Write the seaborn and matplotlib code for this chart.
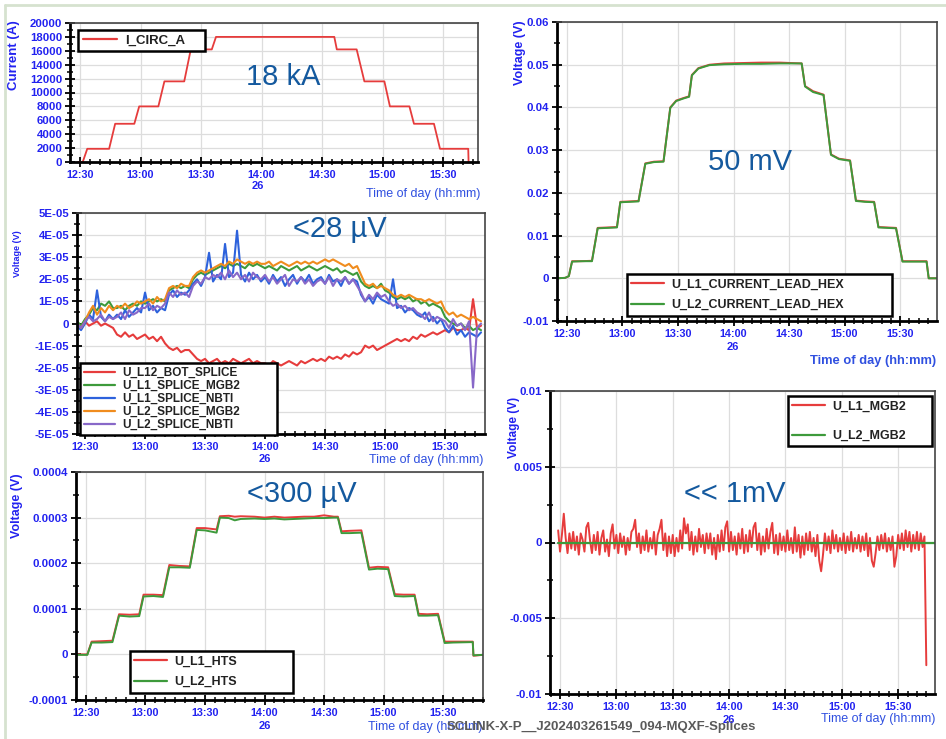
import numpy as np
import pandas as pd
import matplotlib
matplotlib.use("Agg")
import matplotlib.pyplot as plt
import seaborn as sns
from matplotlib.lines import Line2D
from matplotlib.ticker import MultipleLocator, FuncFormatter

# ---------------- data ----------------
# circuit current, corners of the staircase (A)
circ_time = ["12:29:00", "12:31:20", "12:33:35", "12:44:25", "12:47:25", "12:56:55", "12:59:20",
             "13:08:50", "13:11:50", "13:21:40", "13:24:55", "13:35:20", "13:37:25", "14:36:05",
             "14:37:20", "14:47:10", "14:51:00", "15:00:55", "15:03:40", "15:13:20", "15:15:35",
             "15:25:30", "15:28:30", "15:42:30", "15:42:40"]
circ_amp = [0, 0, 1900, 1900, 5500, 5500, 8000, 8000, 11600, 11600, 16200, 16200, 18000, 18000,
            16200, 16200, 11600, 11600, 8000, 8000, 5500, 5500, 1900, 1900, 0]

# splice voltages, logged every 2 min from 12:26 (microvolt)
splice_start = "12:26:00"
splice_names = ["U_L12_BOT_SPLICE", "U_L1_SPLICE_MGB2", "U_L1_SPLICE_NBTI",
                "U_L2_SPLICE_MGB2", "U_L2_SPLICE_NBTI"]
u_l12_bot_splice = [0, -1, 1, -1, 0, 1, -1, 0, -1,
                    -2,
                    -5, -6, -4, -6, -5, -7, -6, -5, -7, -6, -8, -6,
                    -9, -11, -12, -11, -13, -12, -12,
                    -14, -16, -17, -16, -18, -17, -16, -18, -17, -18, -16, -17, -18, -17, -16, -18, -17, -18,
                    -18, -19, -17, -18, -19, -18, -17, -18, -19, -17, -18, -17, -16, -17,
                    -16, -17, -15, -16, -15, -16, -14, -15, -13, -14,
                    -13, -10, -11, -10, -12, -11, -10,
                    -9, -8, -7, -8, -7, -8, -6, -7,
                    -5, -6, -5, -4, -5, -4,
                    -3, -4, -2, -3, -3, -2, -3, 11, -2, -1]
u_l1_splice_mgb2 = [1, -1, 2, 4, 7,
                    6, 9, 8, 10, 7,
                    7, 8, 6, 8, 9, 8, 10,
                    9, 10, 11, 10, 11, 10,
                    15, 16, 17, 16, 17, 16,
                    20, 22, 23, 22, 23, 24,
                    25, 26, 25, 27, 26, 27, 26, 25, 27, 26, 27, 26,
                    25, 26, 25, 24, 26, 25, 24, 25, 26, 24, 25, 26, 25, 24,
                    25, 26, 25, 24, 25, 23, 24, 23, 22, 23,
                    19, 17, 16, 17, 16, 18, 15,
                    14, 12, 11, 12, 11, 12, 10, 11,
                    9, 10, 8, 9, 8, 7,
                    3, 1, 0, -1, 0, -2, -1, -3, -2, -3]
u_l1_splice_nbti = [-1, -3, 0, 4, 2,
                    15, 3, 1, 4, 2,
                    4, 2, 6, 3, 5, 7, 5,
                    14, 6, 8, 5, 7, 6,
                    13, 15, 12, 14, 13, 15,
                    18, 20, 17, 21, 32, 19,
                    22, 20, 36, 21, 23, 42, 22, 19, 23, 20, 22, 19,
                    21, 18, 22, 19, 21, 17, 20, 22, 18, 21, 19, 22, 18, 20,
                    21, 18, 22, 19, 20, 17, 21, 18, 20, 19,
                    13, 10, 12, 9, 13, 11, 10,
                    9, 20, 7, 8, 5, 7, 6, 4,
                    3, 5, 1, 3, 0, 2,
                    -2, -4, -1, -5, -3, -6, -4, -5, -6, -4]
u_l2_splice_mgb2 = [0, -2, 1, 5, 8,
                    4, 7, 5, 8, 6,
                    8, 7, 9, 7, 8, 10, 9,
                    10, 11, 9, 12, 10, 11,
                    16, 17, 16, 18, 17, 17,
                    21, 23, 24, 23, 24, 25,
                    26, 27, 26, 28, 27, 29, 28, 27, 28, 27, 28, 27,
                    27, 28, 26, 27, 28, 27, 26, 27, 28, 27, 28, 27, 28, 27,
                    28, 29, 28, 29, 28, 27, 26, 27, 25, 26,
                    22, 18, 17, 18, 16, 17, 16,
                    15, 13, 12, 13, 12, 13, 12, 11,
                    11, 10, 11, 10, 9, 10,
                    6, 4, 5, 3, 4, 3, 2, 3, 2, 1]
u_l2_splice_nbti = [0, -2, 1, 3, 1,
                    2, 4, 1, 3, 2,
                    3, 5, 2, 6, 4, 5, 7,
                    7, 9, 6, 8, 7, 9,
                    14, 12, 15, 13, 14, 12,
                    17, 19, 18, 21, 20, 22,
                    21, 23, 20, 24, 21, 23, 20, 22, 19, 23, 21, 20,
                    22, 19, 21, 18, 20, 22, 17, 20, 19, 21, 18, 20, 17, 19,
                    20, 18, 21, 17, 20, 19, 21, 18, 20, 17,
                    14, 10, 13, 11, 14, 12, 13,
                    10, 8, 9, 7, 8, 6, 7, 5,
                    4, 2, 5, 1, 3, 2,
                    1, -2, 2, -1, 0, -3, 1, -29, -2, 0]

# HTS voltages (microvolt)
hts_time = ["12:25:00", "12:30:40", "12:32:50", "12:38:00", "12:43:20", "12:46:40", "12:52:00",
            "12:56:50", "12:59:00", "13:04:00", "13:08:50", "13:12:00", "13:17:00", "13:22:20",
            "13:25:50", "13:30:00", "13:35:50", "13:37:30", "13:42:00", "13:45:00", "13:48:00",
            "13:55:00", "14:00:00", "14:05:00", "14:10:00", "14:15:00", "14:20:00", "14:25:00",
            "14:30:00", "14:35:00", "14:37:00", "14:38:50", "14:43:00", "14:48:50", "14:52:40",
            "14:57:00", "15:02:20", "15:05:40", "15:10:00", "15:15:40", "15:17:40", "15:22:00",
            "15:27:30", "15:30:50", "15:35:00", "15:45:00", "15:45:20", "15:50:00"]
u_l1_hts = [0, 0, 28, 29, 30, 88, 87, 88, 131, 131, 130, 196, 194, 193, 277, 277, 274,
            303, 304, 302, 303, 302, 300, 302, 300, 301, 302, 302, 305, 302, 302,
            270, 271, 272, 190, 192, 191, 132, 131, 131, 89, 88, 89, 28, 28, 28, -3, -1]
u_l2_hts = [-1, -1, 26, 26, 27, 85, 83, 84, 127, 128, 126, 191, 191, 190, 273, 272, 267,
            300, 299, 294, 297, 298, 297, 298, 296, 297, 298, 299, 299, 300, 300,
            266, 266, 267, 186, 188, 187, 128, 127, 128, 85, 85, 86, 25, 26, 27, -2, -1]

# current lead heat exchanger voltages (millivolt)
hex_time = ["12:24:30", "12:29:00", "12:31:00", "12:32:45", "12:38:00", "12:43:30", "12:46:35",
            "12:52:00", "12:57:00", "12:58:50", "13:04:00", "13:08:40", "13:12:20", "13:17:00",
            "13:22:10", "13:25:50", "13:29:00", "13:33:00", "13:36:00", "13:37:30", "13:41:00",
            "13:47:00", "13:55:00", "14:05:00", "14:15:00", "14:25:00", "14:36:50", "14:38:40",
            "14:43:00", "14:48:40", "14:52:40", "14:57:00", "15:03:00", "15:06:10", "15:11:00",
            "15:16:00", "15:18:20", "15:23:00", "15:27:50", "15:31:20", "15:38:00", "15:44:20",
            "15:45:30", "15:50:00"]
u_l1_hex = [0.0, 0.1, 0.5, 4.0, 4.0, 4.1, 11.8, 11.9, 12.0, 17.9, 18.0, 18.1, 26.9, 27.3, 27.4,
            40.0, 41.6, 42.2, 42.6, 47.6, 49.2, 50.0, 50.3, 50.4, 50.5, 50.5, 50.3, 45.0, 43.8,
            43.0, 29.0, 28.0, 27.6, 18.2, 18.0, 17.9, 12.0, 11.9, 11.8, 4.0, 4.0, 4.0, 0.0, 0.0]
u_l2_hex = [0.0, 0.1, 0.5, 3.9, 4.0, 4.0, 11.7, 11.8, 11.9, 17.8, 17.9, 18.0, 26.8, 27.2, 27.3,
            39.9, 41.5, 42.1, 42.5, 47.5, 49.1, 49.9, 50.1, 50.2, 50.2, 50.3, 50.3, 44.9, 43.6,
            42.9, 28.9, 27.9, 27.5, 18.1, 17.9, 17.8, 11.9, 11.8, 11.7, 3.9, 3.9, 3.9, 0.0, 0.0]

# MgB2 voltages, logged every minute from 12:29 (millivolt)
mgb2_start = "12:29:00"
u_l1_mgb2 = [0.8, -0.6, 0.5, 1.9, 0.3, -0.7, 0.6, -0.4, 0.7, -0.5,
             0.4, -0.8, 0.6, 0.2, -0.6, 1.0, 1.3, 0.1, -0.7, 0.5,
             -0.5, 0.7, -0.8, 0.3, 0.8, -0.6, 0.2, -0.9, 0.6, 1.2,
             -0.4, 0.5, -0.7, 0.6, -0.3, 0.4, -0.8, 0.3, -0.5, 0.7,
             0.9, 1.5, -0.3, 0.6, -0.7, 0.4, -0.5, 0.8, -0.6, 0.3,
             -0.4, 0.7, -0.8, 0.5, 0.9, 1.5, -0.5, 0.6, -0.9, 0.4,
             -0.7, 0.5, -0.9, 0.3, -0.6, 0.8, -0.4, 1.6, 0.6, 1.2,
             -0.5, 0.7, -0.8, 0.4, -0.6, 0.9, -0.3, 0.5, -0.7, 0.6,
             -0.4, 0.6, -0.8, 0.3, -1.1, 0.5, -0.6, 0.8, -0.5, 1.0,
             1.4, -0.6, 0.7, -0.5, 0.4, -0.8, 0.6, -0.4, 0.9, -0.7,
             0.5, -0.6, 0.8, -0.3, 1.0, 1.3, -0.5, 0.6, -0.8, 0.4,
             -0.6, 0.9, -0.4, 0.7, 1.3, -0.7, 0.5, -0.8, 0.6, -0.5,
             0.4, -0.6, 0.8, -0.5, 0.3, -0.7, 1.0, -0.6, 0.5, -1.0,
             0.4, -0.8, 0.6, -0.5, 0.7, -0.6, 0.3, -0.9, 0.5, -1.2,
             -1.9, -0.8, 0.6, -0.5, 0.4, -0.7, 0.8, -0.4, 0.5, -0.6,
             0.3, -0.5, 0.6, -0.7, 0.4, -0.5, 0.7, -0.6, 0.3, -0.4,
             0.5, -0.6, 0.4, -0.5, 0.6, -0.9, 0.3, -1.2, -1.6, -0.7,
             0.4, -0.5, 0.5, -0.4, 0.6, -0.6, 0.3, -0.5, 0.4, -1.6,
             -0.9, 0.5, -0.4, 0.6, -0.5, 0.8, -0.3, 0.7, -0.6, 0.5,
             -0.4, 0.7, -0.5, 0.6, -0.3, 0.4, -8.1]
l2_mgb2_time = ["12:29:00", "13:30:00", "14:30:00", "15:50:00"]
u_l2_mgb2 = [0.0, 0.0, 0.0, 0.0]

# ---------------- style ----------------
RED, GREEN, BLUE, ORANGE, PURPLE = "#e63c3c", "#3d9a3b", "#2d62dc", "#f08c1e", "#8868c8"
splice_colors = [RED, GREEN, BLUE, ORANGE, PURPLE]
TICK = "#2222f0"
NOTE = "#14599e"

sns.set_theme(style="white")
plt.rcParams["font.family"] = ["Liberation Sans", "DejaVu Sans"]
plt.rcParams["font.weight"] = "bold"
plt.rcParams["axes.unicode_minus"] = False

W, H = 946, 739
fig = plt.figure(figsize=(W / 100, H / 100), dpi=100)
fig.patch.set_facecolor("white")


def hours(stamps):
    return pd.to_timedelta(stamps).total_seconds().to_numpy() / 3600


def hhmm(x, pos):
    m = int(round(x * 60))
    return f"{m // 60}:{m % 60:02d}"


def ftext(x, y, s, **kw):
    fig.text(x / W, 1 - y / H, s, **kw)


def make_axes(box, xlim, ylim, ymaj, ymin, yfmt):
    l, t, r, b = box
    ax = fig.add_axes([l / W, 1 - b / H, (r - l) / W, (b - t) / H])
    ax.set_xlim(*xlim)
    ax.set_ylim(*ylim)
    ax.xaxis.set_major_locator(MultipleLocator(0.5))
    ax.xaxis.set_minor_locator(MultipleLocator(1 / 12))
    ax.xaxis.set_major_formatter(FuncFormatter(hhmm))
    ax.yaxis.set_major_locator(MultipleLocator(ymaj))
    ax.yaxis.set_minor_locator(MultipleLocator(ymin))
    ax.yaxis.set_major_formatter(FuncFormatter(yfmt))
    ax.set_axisbelow(True)
    ax.grid(True, which="major", color="#dddddd", lw=0.9)
    ax.tick_params(which="both", direction="inout", color="black", labelcolor=TICK,
                   bottom=True, left=True, top=False, right=False)
    ax.tick_params(axis="y", labelsize=8.2)
    ax.tick_params(axis="x", labelsize=7.8)
    ax.tick_params(which="major", length=7, width=1.3, pad=2)
    ax.tick_params(which="minor", length=4, width=1.1)
    for side in ["left", "bottom"]:
        ax.spines[side].set_linewidth(2)
        ax.spines[side].set_color("black")
    for side in ["top", "right"]:
        ax.spines[side].set_linewidth(1.2)
        ax.spines[side].set_color("#444444")
    ax.set_xlabel("")
    ax.set_ylabel("")
    return ax


def add_legend(ax, box, legbox, fs, spacing):
    l, t, r, b = box
    x0, y0, x1, y1 = legbox
    anchor = ((x0 - l) / (r - l), (b - y1) / (b - t), (x1 - x0) / (r - l), (y1 - y0) / (b - t))
    handles, labels = ax.get_legend_handles_labels()
    leg = ax.legend(handles, labels, loc="upper left", bbox_to_anchor=anchor, mode="expand",
                    borderaxespad=0, fancybox=False, framealpha=1, edgecolor="black",
                    fontsize=fs, labelspacing=spacing, handlelength=2.6, handletextpad=0.6,
                    borderpad=0.35)
    leg.get_frame().set_linewidth(1.8)
    for txt in leg.get_texts():
        txt.set_color("#222222")
    for h in leg.legend_handles:
        h.set_linewidth(1.6)


def time_axis_labels(x26, y26, xr, yr, bold=False):
    ftext(x26, y26, "26", color=TICK, fontsize=8, ha="center", va="center")
    ftext(xr, yr, "Time of day (hh:mm)", color="#3050e0", fontsize=9 if not bold else 9.3,
          fontweight="bold" if bold else "normal", ha="right", va="center")


fmt_int = lambda v, p: f"{v:.0f}"
fmt_sci = lambda v, p: "0" if abs(v) < 1e-12 else f"{v:.0E}"
fmt_g = lambda v, p: "0" if abs(v) < 1e-12 else f"{v:g}"

# ---------------- panel 1: current ----------------
AX1 = (70, 23, 478, 162)
ax1 = make_axes(AX1, (12.417, 15.789), (0, 20000), 2000, 1000, fmt_int)
sns.lineplot(x=hours(circ_time), y=circ_amp, color=RED, linewidth=1.3, label="I_CIRC_A",
             estimator=None, sort=False, ax=ax1)
ax1.set_xlabel("")
add_legend(ax1, AX1, (78, 30, 205, 58), 9.5, 0.5)
ftext(14, 20, "Current (A)", rotation=90, color=TICK, fontsize=9.5, ha="center", va="top")
time_axis_labels(258, 186, 480, 194)
ftext(283, 77, "18 kA", color=NOTE, fontsize=21, fontweight="normal", ha="center", va="center")

# ---------------- panel 2: splices ----------------
AX2 = (77, 213, 485, 434)
ax2 = make_axes(AX2, (12.433, 15.833), (-5e-5, 5e-5), 1e-5, 5e-6, fmt_sci)
t_splice = hours(pd.timedelta_range(splice_start, periods=len(u_l12_bot_splice), freq="2min"))
splice_vals = [u_l12_bot_splice, u_l1_splice_mgb2, u_l1_splice_nbti, u_l2_splice_mgb2, u_l2_splice_nbti]
for name, vals, col in zip(splice_names, splice_vals, splice_colors):
    sns.lineplot(x=t_splice, y=np.array(vals) * 1e-6, color=col, linewidth=1.5, label=name,
                 estimator=None, sort=False, ax=ax2)
ax2.set_xlabel("")
add_legend(ax2, AX2, (80, 363, 277, 430), 8.5, 0.08)
ftext(17, 230, "Voltage (V)", rotation=90, color=TICK, fontsize=6.5, ha="center", va="top")
time_axis_labels(265, 459, 483, 460)
ftext(340, 229, "<28 µV", color=NOTE, fontsize=21, fontweight="normal", ha="center", va="center")

# ---------------- panel 3: HTS ----------------
AX3 = (76, 472, 483, 700)
ax3 = make_axes(AX3, (12.416, 15.836), (-1e-4, 4e-4), 1e-4, 5e-5, fmt_g)
t_hts = hours(hts_time)
sns.lineplot(x=t_hts, y=np.array(u_l1_hts) * 1e-6, color=RED, linewidth=1.4, label="U_L1_HTS",
             estimator=None, sort=False, ax=ax3)
sns.lineplot(x=t_hts, y=np.array(u_l2_hts) * 1e-6, color=GREEN, linewidth=1.4, label="U_L2_HTS",
             estimator=None, sort=False, ax=ax3)
ax3.set_xlabel("")
add_legend(ax3, AX3, (130, 651, 293, 693), 9, 0.7)
ftext(17, 473, "Voltage (V)", rotation=90, color=TICK, fontsize=9, ha="center", va="top")
time_axis_labels(265, 726, 482, 727)
ftext(302, 494, "<300 µV", color=NOTE, fontsize=21, fontweight="normal", ha="center", va="center")

# ---------------- panel 4: current lead HEX ----------------
AX4 = (557, 22, 937, 321)
ax4 = make_axes(AX4, (12.41, 15.833), (-0.01, 0.06), 0.01, 0.005, fmt_g)
t_hex = hours(hex_time)
sns.lineplot(x=t_hex, y=np.array(u_l1_hex) * 1e-3, color=RED, linewidth=1.4,
             label="U_L1_CURRENT_LEAD_HEX", estimator=None, sort=False, ax=ax4)
sns.lineplot(x=t_hex, y=np.array(u_l2_hex) * 1e-3, color=GREEN, linewidth=1.4,
             label="U_L2_CURRENT_LEAD_HEX", estimator=None, sort=False, ax=ax4)
ax4.set_xlabel("")
add_legend(ax4, AX4, (627, 274, 892, 316), 9, 0.7)
ftext(520, 20, "Voltage (V)", rotation=90, color=TICK, fontsize=9, ha="center", va="top")
time_axis_labels(733, 347, 936, 361, bold=True)
ftext(750, 162, "50 mV", color=NOTE, fontsize=21, fontweight="normal", ha="center", va="center")

# ---------------- panel 5: MgB2 ----------------
AX5 = (550, 391, 935, 694)
ax5 = make_axes(AX5, (12.411, 15.827), (-0.01, 0.01), 0.005, 0.0025, fmt_g)
t_mgb2 = hours(pd.timedelta_range(mgb2_start, periods=len(u_l1_mgb2), freq="1min"))
sns.lineplot(x=t_mgb2, y=np.array(u_l1_mgb2) * 1e-3, color=RED, linewidth=1.4, label="U_L1_MGB2",
             estimator=None, sort=False, ax=ax5)
sns.lineplot(x=hours(l2_mgb2_time), y=np.array(u_l2_mgb2) * 1e-3, color=GREEN, linewidth=1.6,
             label="U_L2_MGB2", estimator=None, sort=False, ax=ax5)
ax5.set_xlabel("")
add_legend(ax5, AX5, (788, 396, 932, 455), 9, 1.4)
ftext(514, 397, "Voltage (V)", rotation=90, color=TICK, fontsize=8.5, ha="center", va="top")
time_axis_labels(729, 720, 935, 719)
ftext(735, 494, "<< 1mV", color=NOTE, fontsize=21, fontweight="normal", ha="center", va="center")

# slide frame and file tag
fig.add_artist(Line2D([5 / W, 1], [1 - 5 / H, 1 - 5 / H], transform=fig.transFigure,
                      color="#d6e2cf", lw=2))
fig.add_artist(Line2D([5 / W, 5 / W], [0, 1 - 5 / H], transform=fig.transFigure,
                      color="#d6e2cf", lw=2))
ftext(447, 727, "SCLINK-X-P__J202403261549_094-MQXF-Splices", color="#5a5a5a",
      fontsize=9.5, ha="left", va="center")

fig.savefig("out.png", dpi=100, facecolor="white")
